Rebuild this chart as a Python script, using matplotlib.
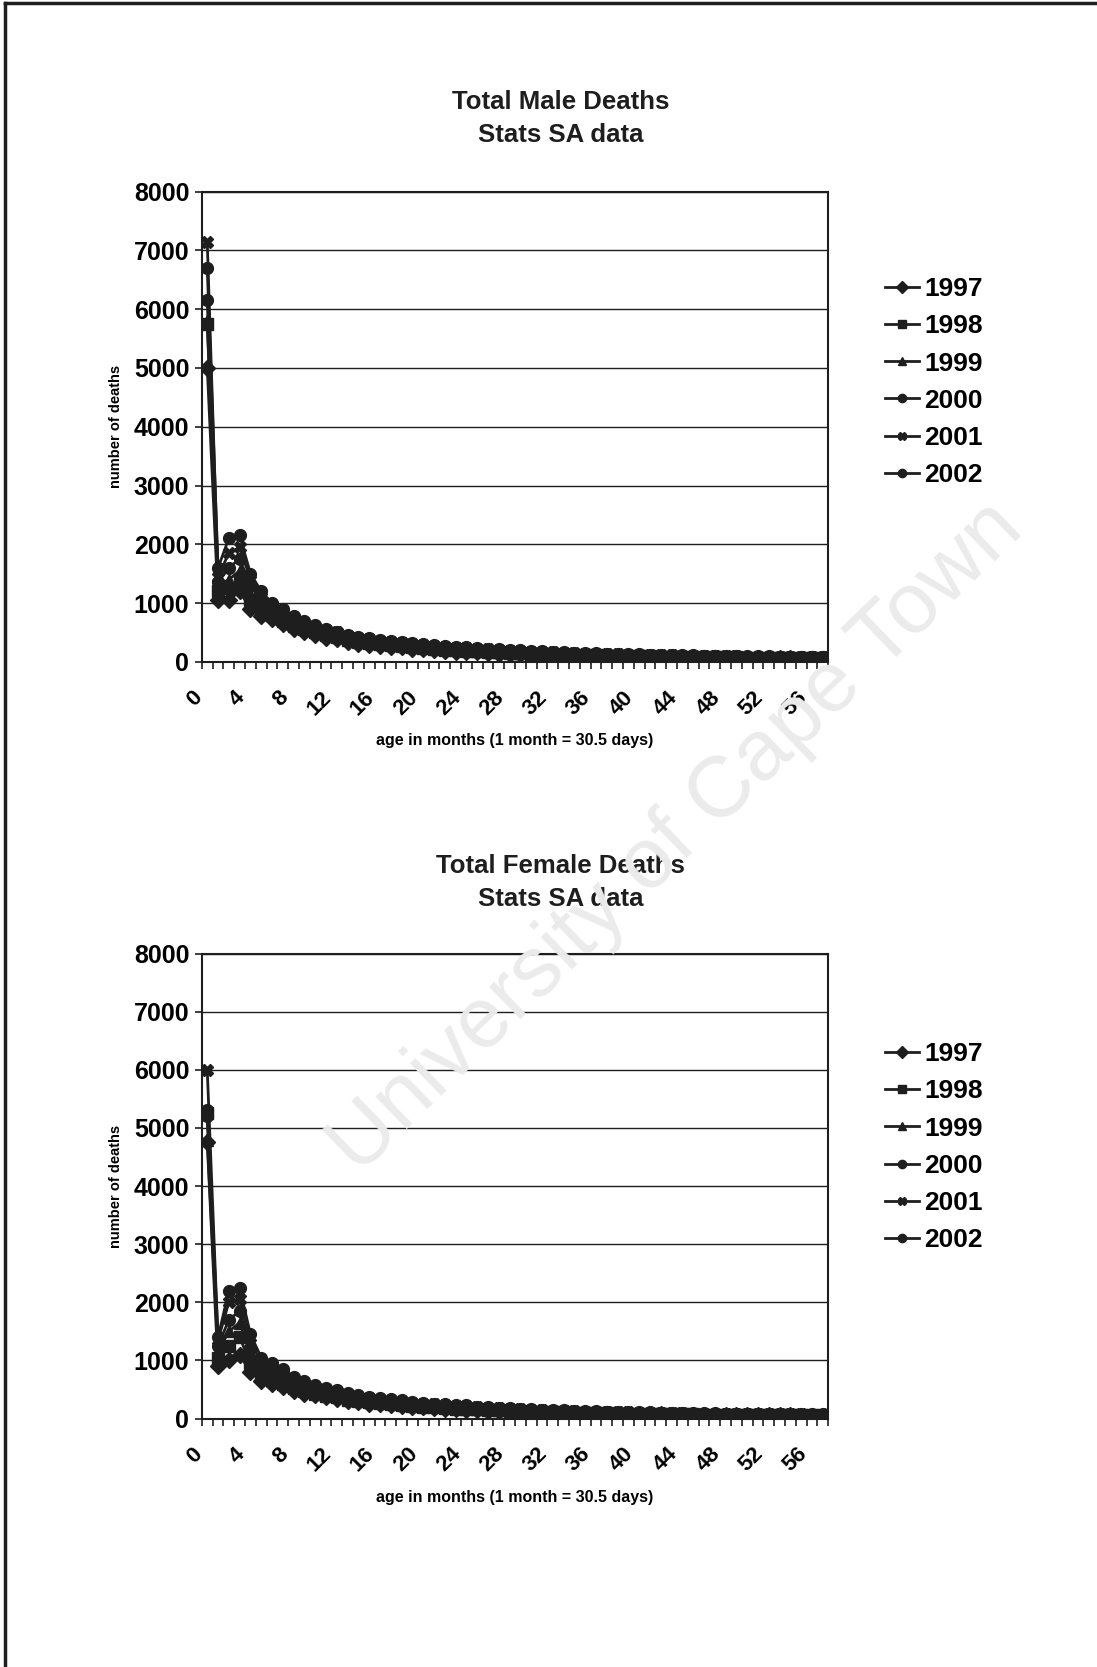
import numpy as np
import matplotlib.pyplot as plt
import matplotlib.transforms as mtransforms
from matplotlib.lines import Line2D

plt.rcParams['font.family'] = ['Liberation Sans', 'DejaVu Sans']

# age in months, 0..57
months = list(range(58))
years = ['1997', '1998', '1999', '2000', '2001', '2002']
markers = ['D', 's', '^', 'o', 'X', 'o']

# male deaths
male_1997 = [5000, 1050, 1050, 1200, 900, 780, 720, 640, 560, 500, 450, 410, 390, 340, 310, 290, 270, 255, 245, 225,
             215, 200, 185, 175, 175, 160, 150, 140, 135, 128, 120, 115, 110, 105, 100, 98, 97, 92, 88, 85,
             83, 80, 78, 75, 74, 72, 70, 68, 68, 65, 63, 62, 60, 59, 58, 56, 55, 54]
male_1998 = [5750, 1200, 1250, 1350, 1050, 870, 790, 700, 610, 550, 500, 450, 420, 370, 345, 320, 300, 280, 268, 250,
             236, 222, 208, 196, 192, 178, 168, 160, 152, 144, 137, 131, 125, 120, 115, 111, 110, 104, 100, 97,
             94, 91, 88, 86, 84, 82, 80, 78, 78, 74, 73, 71, 70, 68, 67, 66, 65, 64]
male_1999 = [5800, 1300, 1400, 1550, 1150, 930, 840, 740, 650, 590, 530, 480, 450, 395, 365, 340, 318, 300, 288, 268,
             252, 238, 224, 212, 208, 192, 182, 172, 165, 157, 150, 143, 137, 131, 126, 121, 120, 113, 109, 105,
             102, 99, 96, 93, 91, 88, 86, 84, 84, 80, 78, 77, 75, 74, 72, 71, 70, 69]
male_2000 = [6150, 1350, 1600, 1750, 1300, 1020, 890, 790, 690, 620, 560, 510, 475, 420, 385, 360, 336, 316, 304, 284,
             268, 254, 240, 228, 224, 206, 196, 186, 178, 170, 162, 155, 148, 142, 136, 131, 130, 122, 118, 114,
             110, 107, 104, 101, 98, 95, 93, 91, 90, 86, 84, 82, 81, 79, 78, 76, 75, 74]
male_2001 = [7150, 1450, 1850, 1950, 1400, 1100, 950, 850, 740, 660, 590, 540, 500, 440, 405, 380, 355, 335, 322, 300,
             285, 270, 256, 242, 238, 220, 210, 200, 192, 183, 175, 168, 160, 153, 147, 141, 140, 131, 127, 122,
             118, 114, 111, 108, 105, 102, 99, 97, 96, 92, 90, 88, 86, 85, 83, 82, 80, 79]
male_2002 = [6700, 1600, 2100, 2150, 1500, 1200, 1000, 900, 780, 690, 620, 560, 515, 450, 420, 400, 370, 350, 338, 315,
             300, 285, 270, 255, 252, 235, 222, 212, 205, 195, 185, 178, 170, 163, 156, 150, 149, 140, 135, 130,
             126, 122, 118, 115, 112, 109, 106, 103, 102, 98, 96, 94, 92, 90, 88, 86, 85, 84]

# female deaths
female_1997 = [4750, 900, 1000, 1100, 800, 650, 600, 540, 480, 430, 400, 365, 345, 300, 280, 260, 245, 230, 220, 205,
               195, 182, 170, 160, 156, 145, 137, 130, 124, 118, 112, 107, 102, 98, 94, 90, 89, 84, 81, 78,
               76, 74, 72, 70, 68, 66, 64, 63, 62, 60, 58, 57, 56, 55, 54, 53, 52, 51]
female_1998 = [5250, 1050, 1250, 1400, 950, 740, 670, 600, 530, 470, 430, 395, 375, 325, 302, 282, 265, 248, 238, 220,
               208, 196, 184, 174, 170, 157, 149, 141, 134, 128, 122, 116, 111, 106, 102, 98, 97, 91, 88, 85,
               82, 80, 78, 76, 74, 72, 70, 68, 67, 65, 63, 62, 61, 60, 59, 58, 57, 56]
female_1999 = [4800, 1150, 1500, 1650, 1100, 820, 730, 650, 570, 510, 460, 420, 400, 350, 325, 302, 284, 266, 256, 236,
               224, 210, 198, 187, 183, 169, 160, 152, 145, 138, 131, 125, 120, 115, 110, 106, 105, 98, 95, 92,
               89, 86, 84, 81, 79, 77, 75, 73, 72, 70, 68, 67, 65, 64, 63, 62, 61, 60]
female_2000 = [5200, 1250, 1700, 1850, 1200, 900, 800, 710, 620, 550, 500, 455, 430, 378, 350, 326, 305, 286, 274, 254,
               240, 226, 213, 201, 197, 181, 172, 163, 155, 148, 141, 135, 129, 123, 118, 114, 113, 106, 102, 99,
               96, 93, 90, 87, 85, 82, 80, 78, 77, 74, 73, 71, 70, 68, 67, 66, 65, 64]
female_2001 = [6000, 1350, 2000, 2050, 1300, 980, 870, 770, 670, 600, 540, 490, 460, 405, 375, 350, 328, 308, 294, 272,
               258, 243, 229, 216, 211, 195, 185, 175, 167, 159, 152, 145, 138, 132, 127, 122, 121, 114, 110, 106,
               103, 100, 97, 94, 91, 88, 86, 84, 83, 80, 78, 76, 75, 73, 72, 71, 70, 69]
female_2002 = [5300, 1400, 2200, 2250, 1450, 1050, 950, 850, 720, 640, 580, 530, 495, 435, 400, 375, 350, 330, 316, 292,
               276, 260, 245, 231, 226, 208, 197, 187, 178, 170, 162, 154, 147, 141, 135, 130, 129, 121, 117, 113,
               109, 106, 103, 100, 97, 94, 92, 89, 88, 85, 83, 81, 80, 78, 77, 75, 74, 73]

male = [male_1997, male_1998, male_1999, male_2000, male_2001, male_2002]
female = [female_1997, female_1998, female_1999, female_2000, female_2001, female_2002]

ink = '#1e1e1e'

fig = plt.figure(figsize=(10.97, 16.67), dpi=100)


def draw(ax, series, title, title_y, legend_y):
    n = len(months)
    x = np.array(months) + 0.5
    for name, mk, y in zip(years, markers, series):
        ax.plot(x, y, color=ink, lw=2.0, marker=mk, ms=8.5, mfc=ink, mec=ink, label=name)
    ax.set_xlim(0, n)
    ax.set_ylim(0, 8000)
    ax.set_yticks(range(0, 8001, 1000))
    ax.yaxis.grid(True, color=ink, lw=1.0)
    ax.set_axisbelow(True)
    ax.set_xticks(np.arange(0, n + 1), minor=True)
    ax.set_xticks(np.array(months[::4]) + 0.5)
    ax.set_xticklabels([str(v) for v in months[::4]], rotation=45, ha='right',
                       rotation_mode='anchor', fontsize=16, fontweight='bold')
    ax.tick_params(axis='x', which='major', length=0, pad=18)
    ax.tick_params(axis='x', which='minor', length=5, width=1.2, color=ink, direction='out')
    ax.tick_params(axis='y', length=5, width=1.2, color=ink, labelsize=18, pad=4)
    # the scanned labels sit a bit left of their categories
    shift = mtransforms.ScaledTranslation(-0.16, 0, fig.dpi_scale_trans)
    for lab in ax.get_xticklabels():
        lab.set_transform(lab.get_transform() + shift)
    for lab in ax.get_yticklabels():
        lab.set_fontweight('bold')
    for s in ax.spines.values():
        s.set_color(ink)
        s.set_linewidth(1.5)
    ax.set_ylabel('number of deaths', fontsize=10.5, fontweight='bold', labelpad=8)
    ax.set_xlabel('age in months (1 month = 30.5 days)', fontsize=11.5, fontweight='bold', labelpad=10)
    fig.text(0.511, title_y, title, fontsize=18.5, fontweight='bold', ha='center', va='top',
             linespacing=1.45, color=ink)
    ax.legend(loc='upper left', bbox_to_anchor=(0.785, legend_y), bbox_transform=fig.transFigure,
              frameon=False, handlelength=1.3, labelspacing=0.5, handletextpad=0.2,
              markerscale=0.7, prop={'weight': 'bold', 'size': 19})


ax1 = fig.add_axes([0.184, 0.603, 0.571, 0.282])
draw(ax1, male, 'Total Male Deaths\nStats SA data', 0.946, 0.848)
ax2 = fig.add_axes([0.184, 0.149, 0.571, 0.279])
draw(ax2, female, 'Total Female Deaths\nStats SA data', 0.4875, 0.389)

# watermark
fig.text(0.617, 0.497, 'University of Cape Town', fontsize=62, color='#ebebeb',
         rotation=44, ha='center', va='center', zorder=10)

# page border from the scan
fig.add_artist(Line2D([0.005, 0.005], [0.0, 0.998], color=ink, lw=2.5))
fig.add_artist(Line2D([0.005, 1.0], [0.998, 0.998], color=ink, lw=2.5))

fig.savefig('out.png', dpi=100)
